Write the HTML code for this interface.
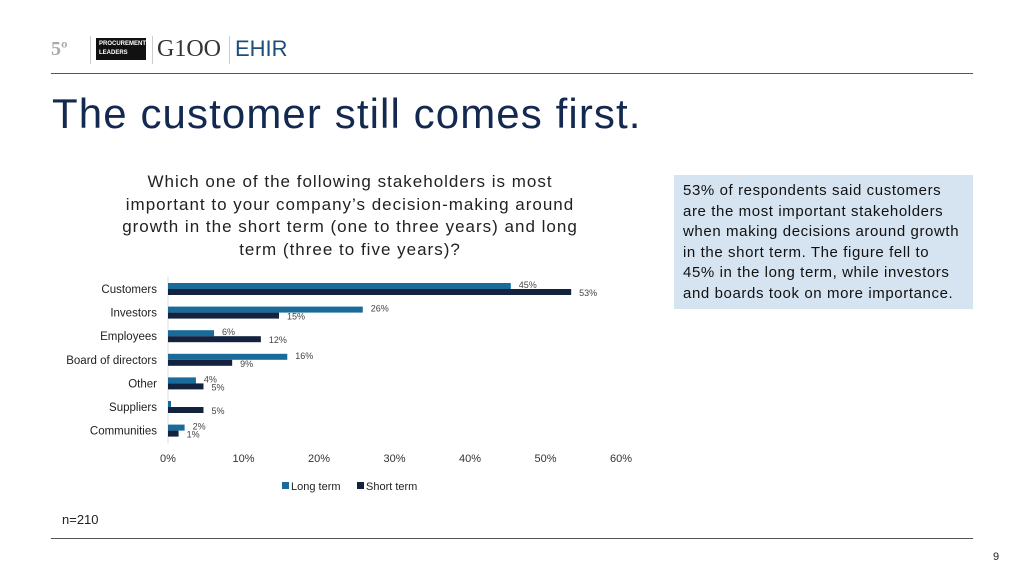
<!DOCTYPE html>
<html><head><meta charset="utf-8"><style>
body{margin:0;width:1024px;height:576px;background:#fff;font-family:"Liberation Sans",sans-serif;position:relative;overflow:hidden}
.abs{position:absolute}
</style></head><body>
<div class="abs" style="left:51px;top:38px;font:bold 20px 'Liberation Serif',serif;color:#aaa">5º</div>
<div class="abs" style="left:96px;top:38px;width:50px;height:22px;background:#111;color:#fff;font:bold 6px 'Liberation Sans';line-height:9px;padding:2px 3px;box-sizing:border-box;overflow:hidden">PROCUREMENT<br>LEADERS</div>
<div class="abs" style="left:157px;top:36px;font:24px 'Liberation Serif',serif;color:#333">G1OO</div>
<div class="abs" style="left:235px;top:36px;font:22px 'Liberation Sans';color:#1e4d7a">EHIR</div>
<div class="abs" style="left:90px;top:36px;width:1px;height:28px;background:#ccc"></div>
<div class="abs" style="left:152px;top:36px;width:1px;height:28px;background:#ccc"></div>
<div class="abs" style="left:229px;top:36px;width:1px;height:28px;background:#ccc"></div>
<div class="abs" style="left:51px;top:73px;width:922px;height:1px;background:#555"></div>
<div class="abs" style="left:52px;top:90px;font-size:42px;letter-spacing:1.1px;color:#14294f">The customer still comes first.</div>
<div class="abs" style="left:90px;top:171px;width:520px;text-align:center;font-size:17px;line-height:22.5px;letter-spacing:1px;color:#222;white-space:nowrap">Which one of the following stakeholders is most<br>important to your company’s decision-making around<br>growth in the short term (one to three years) and long<br>term (three to five years)?</div>
<div class="abs" style="left:674px;top:175px;width:299px;height:134px;background:#d6e4f2;box-sizing:border-box;padding:6px 9px;font-size:15px;line-height:20.6px;letter-spacing:0.6px;color:#111;white-space:nowrap">53% of respondents said customers<br>are the most important stakeholders<br>when making decisions around growth<br>in the short term. The figure fell to<br>45% in the long term, while investors<br>and boards took on more importance.</div>
<svg class="abs" style="left:0;top:0" width="1024" height="576" id="chart"></svg>
<div class="abs" style="left:62px;top:512px;font-size:13px;color:#222">n=210</div>
<div class="abs" style="left:51px;top:538px;width:922px;height:1px;background:#555"></div>
<div class="abs" style="left:993px;top:551px;font-size:11px;color:#222">9</div>
<script>
const categories=["Customers","Investors","Employees","Board of directors","Other","Suppliers","Communities"];
const longTerm=[45.4,25.8,6.1,15.8,3.7,0.4,2.2];
const shortTerm=[53.4,14.7,12.3,8.5,4.7,4.7,1.4];
const longLabels=["45%","26%","6%","16%","4%","",  "2%"];
const shortLabels=["53%","15%","12%","9%","5%","5%","1%"];
const ticks=[0,10,20,30,40,50,60];
const NS="http://www.w3.org/2000/svg",svg=document.getElementById('chart');
const x=v=>168+v*7.55, y=i=>289+i*23.6;
function mk(t,a,txt){const e=document.createElementNS(NS,t);for(const k in a)e.setAttribute(k,a[k]);if(txt!=null)e.textContent=txt;svg.appendChild(e);return e;}
const ax=mk('line',{x1:168,x2:168,y1:277,y2:443,stroke:'#ddd'});


ticks.forEach(t=>{const e=mk('text',{x:x(t),y:462,'text-anchor':'middle','font-size':11,fill:'#333'},t+'%');

});
categories.forEach((c,i)=>{
const l=mk('text',{x:157,y:y(i)+4,'text-anchor':'end','font-size':11.5,fill:'#222'},c);


const b1=mk('rect',{x:168,y:y(i)-6,width:x(longTerm[i])-168,height:6,fill:'#1a6a9a'});


const b2=mk('rect',{x:168,y:y(i),width:x(shortTerm[i])-168,height:6,fill:'#13233f'});


if(longLabels[i]){const t=mk('text',{x:x(longTerm[i])+8,y:y(i)-1,'font-size':9,fill:'#444'},longLabels[i]);

}
const t2=mk('text',{x:x(shortTerm[i])+8,y:y(i)+7,'font-size':9,fill:'#444'},shortLabels[i]);


});
const lg1=mk('rect',{x:282,y:482,width:7,height:7,fill:'#1a6a9a'});


const lt1=mk('text',{x:291,y:490,'font-size':11,fill:'#222'},'Long term');


const lg2=mk('rect',{x:357,y:482,width:7,height:7,fill:'#13233f'});


const lt2=mk('text',{x:366,y:490,'font-size':11,fill:'#222'},'Short term');


</script>
</body></html>
